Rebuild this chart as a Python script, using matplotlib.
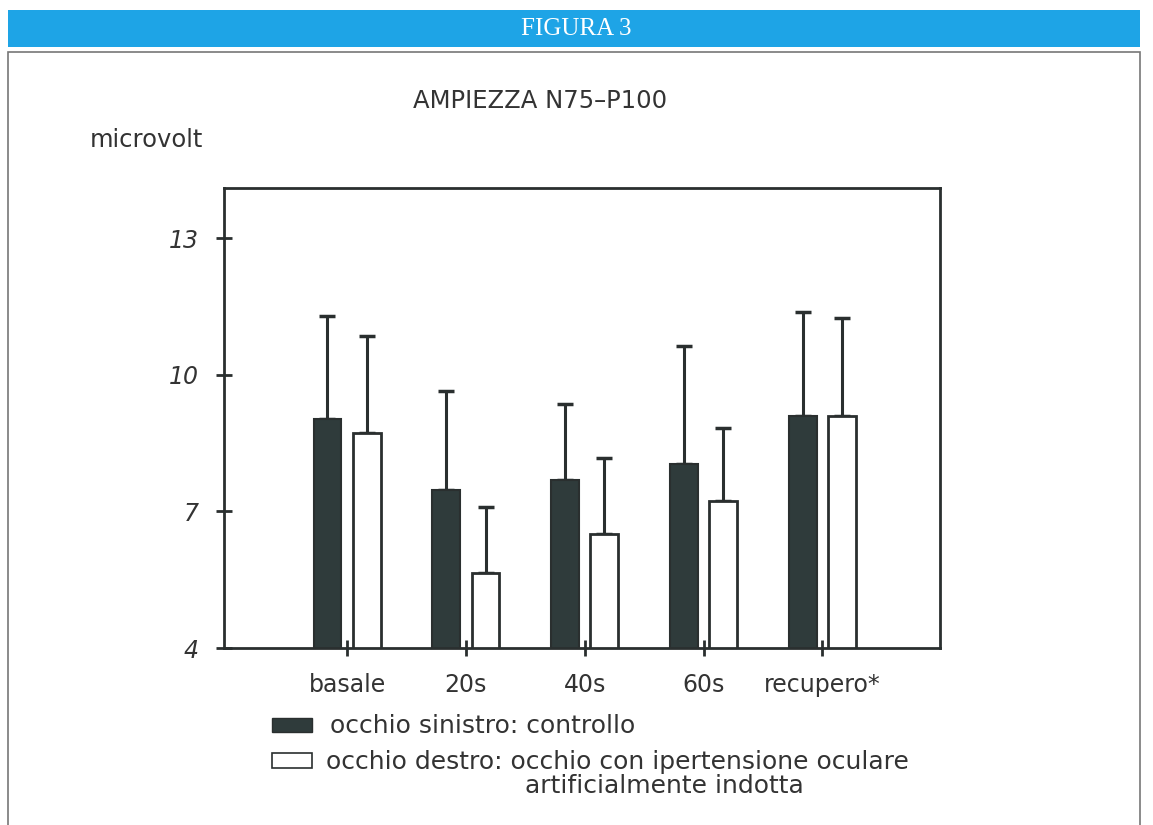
import matplotlib
matplotlib.use("Agg")
import matplotlib.pyplot as plt
from matplotlib.patches import Rectangle
import numpy as np

categories = ["basale", "20s", "40s", "60s", "recupero*"]
sinistro_mean = [9.03, 7.47, 7.69, 8.04, 9.09]
sinistro_err_top = [11.29, 9.64, 9.36, 10.63, 11.37]
destro_mean = [8.73, 5.65, 6.50, 7.23, 9.09]
destro_err_top = [10.85, 7.09, 8.17, 8.83, 11.24]
yticks = [4, 7, 10, 13]
legend_lines = ["occhio sinistro: controllo",
                "occhio destro: occhio con ipertensione oculare",
                "artificialmente indotta"]

W, H = 1153, 825
fig = plt.figure(figsize=(W / 100, H / 100), dpi=100)
fig.patch.set_facecolor("white")

ink = "#2a2f2f"
dark = "#2f3b3b"
txt = "#333333"

# header bar
fig.patches.append(Rectangle((8 / W, 1 - 47 / H), 1132 / W, 37 / H,
                             transform=fig.transFigure, facecolor="#1ea4e6",
                             edgecolor="none"))
fig.text(576 / W, 1 - 29 / H, "FIGURA 3", ha="center", va="center",
         color="white", fontsize=18, family="Liberation Serif")
# frame
fig.patches.append(Rectangle((8 / W, -0.01), 1132 / W, 1 - 52 / H + 0.01,
                             transform=fig.transFigure, facecolor="none",
                             edgecolor="#777777", linewidth=1.2))

ax = fig.add_axes([224 / W, 1 - 648 / H, (940 - 224) / W, (648 - 188) / H])
x = np.arange(len(categories))
off = 0.165
bw = 0.235
sm = np.array(sinistro_mean)
dm = np.array(destro_mean)
ax.bar(x - off, sm, width=bw, color=dark, edgecolor=ink, linewidth=1.5, zorder=2)
ax.bar(x + off, dm, width=bw, color="white", edgecolor=ink, linewidth=2, zorder=2)
ax.errorbar(x - off, sm, yerr=[np.zeros(5), np.array(sinistro_err_top) - sm],
            fmt="none", ecolor=ink, elinewidth=2.2, capsize=6, capthick=2.5, zorder=1)
ax.errorbar(x + off, dm, yerr=[np.zeros(5), np.array(destro_err_top) - dm],
            fmt="none", ecolor=ink, elinewidth=2.2, capsize=6, capthick=2.5, zorder=1)

ax.set_xlim(-1.036, 4.99)
ax.set_ylim(4, 14.1)
ax.set_yticks(yticks)
ax.set_yticklabels([str(t) for t in yticks], fontstyle="italic", fontsize=17, color=ink)
ax.set_xticks(x)
ax.set_xticklabels(categories, fontsize=17, color=txt)
ax.tick_params(axis="both", direction="inout", length=12, width=2, colors=ink)
ax.tick_params(axis="y", pad=12)
ax.tick_params(axis="x", pad=12)
for lab in ax.get_xticklabels() + ax.get_yticklabels():
    lab.set_color(txt)
for s in ax.spines.values():
    s.set_linewidth(2)
    s.set_color(ink)

fig.text(540 / W, 1 - 101 / H, "AMPIEZZA N75\u2013P100", ha="center", va="center",
         fontsize=17.5, color=txt)
fig.text(90 / W, 1 - 140 / H, "microvolt", ha="left", va="center",
         fontsize=17.5, color=txt)

# legend
fig.patches.append(Rectangle((272 / W, 1 - 732 / H), 40 / W, 14 / H,
                             transform=fig.transFigure, facecolor=dark,
                             edgecolor=ink, linewidth=1))
fig.patches.append(Rectangle((272 / W, 1 - 768 / H), 40 / W, 15 / H,
                             transform=fig.transFigure, facecolor="white",
                             edgecolor=ink, linewidth=1.2))
fig.text(330 / W, 1 - 726 / H, legend_lines[0], ha="left", va="center",
         fontsize=18, color=txt)
fig.text(326 / W, 1 - 762 / H, legend_lines[1], ha="left", va="center",
         fontsize=18, color=txt)
fig.text(525 / W, 1 - 786 / H, legend_lines[2], ha="left", va="center",
         fontsize=18, color=txt)

fig.savefig("out.png", dpi=100)
